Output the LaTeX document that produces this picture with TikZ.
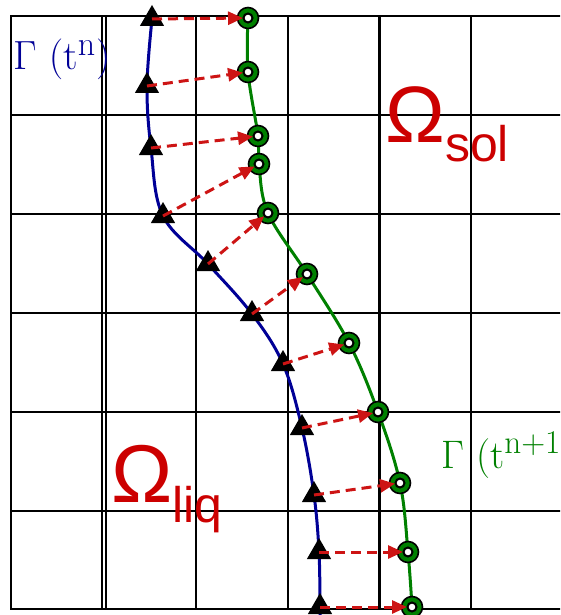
\documentclass[tikz,border=0pt]{standalone}
\usepackage{fontspec}
\newfontfamily\sansf{Liberation Sans}
\usetikzlibrary{shapes.geometric,arrows.meta}
\definecolor{gblue}{RGB}{0,0,150}
\definecolor{ggreen}{RGB}{0,128,0}
\definecolor{gred}{RGB}{204,0,0}
\definecolor{ared}{RGB}{205,20,20}
\begin{document}
\begin{tikzpicture}[x=1pt,y=-1pt,
  gridline/.style={black,line width=2pt},
  tri/.style={regular polygon,regular polygon sides=3,minimum size=28pt,inner sep=0pt,fill=black},
  ring/.style={circle,minimum size=21pt,inner sep=0pt,draw=black,line width=1.6pt,fill=ggreen,
    path picture={\draw[black,fill=white,line width=2pt] (path picture bounding box.center) circle (4.5pt);}},
  move/.style={ared,line width=3pt,dash pattern=on 10pt off 6pt,-{Triangle[length=15pt,width=13pt]},shorten >=5pt},
  lbl/.style={anchor=base west,inner sep=0pt}
  ]
\useasboundingbox (0,0) rectangle (560,615);
\clip (0,0) rectangle (560,615);
% grid
\foreach \x in {11,102,106,196,288,471} \draw[gridline] (\x,16) -- (\x,609);
\draw[gridline,line width=3pt] (379,16) -- (379,609);
\foreach \y in {16,115,214,313,412,511,609} \draw[gridline] (10,\y) -- (565,\y);
% points
\foreach \n/\x/\y in {1/152/19,2/147/86,3/151/148,4/163/216,5/208/264,6/252/314,7/283/364,8/302/428,9/314/495,10/319/552,11/320/607}
  \coordinate (p\n) at (\x,\y);
\foreach \n/\x/\y in {1/248/18,2/248/72,3/258/136,4/259/164,5/268/213,6/307/274,7/349/343,8/378/412,9/400/483,10/408/552,11/412/607}
  \coordinate (q\n) at (\x,\y);
\coordinate (pend) at (320,618);
% curves
\draw[gblue,line width=3pt] plot[smooth,tension=0.6] coordinates {(p1) (p2) (p3) (p4) (p5) (p6) (p7) (p8) (p9) (p10) (p11) (pend)};
\draw[ggreen,line width=3pt] plot[smooth,tension=0.6] coordinates {(q1) (q2) (q3) (q4) (q5) (q6) (q7) (q8) (q9) (q10) (q11)};
% markers
\foreach \n in {1,...,11} {
  \node[tri] (t\n) at (p\n) {};
  \node[ring] (c\n) at (q\n) {};
}
% displacement arrows
\foreach \n in {1,...,11} \draw[move] (p\n) -- (q\n);
% labels
\node[lbl,text=gblue,font=\fontsize{24.88}{26}\selectfont] (gamn) at (13,70) {\scalebox{1.64}{$\Gamma\ (\mathrm{t}^{\mathrm{n}})$}};
\node[lbl,text=ggreen,font=\fontsize{24.88}{26}\selectfont] (gamn1) at (441,468) {\scalebox{1.6}{$\Gamma\ (\mathrm{t}^{\mathrm{n+1}})$}};
\node[lbl,text=gred,font=\sansf\fontsize{80}{80}\selectfont] (osol) at (385,142) {Ω\raisebox{-20pt}{\fontsize{50}{50}\selectfont sol}};
\node[lbl,text=gred,font=\sansf\fontsize{82}{82}\selectfont] (oliq) at (111,502) {Ω\raisebox{-20pt}{\fontsize{50}{50}\selectfont liq}};
\end{tikzpicture}
\end{document}
